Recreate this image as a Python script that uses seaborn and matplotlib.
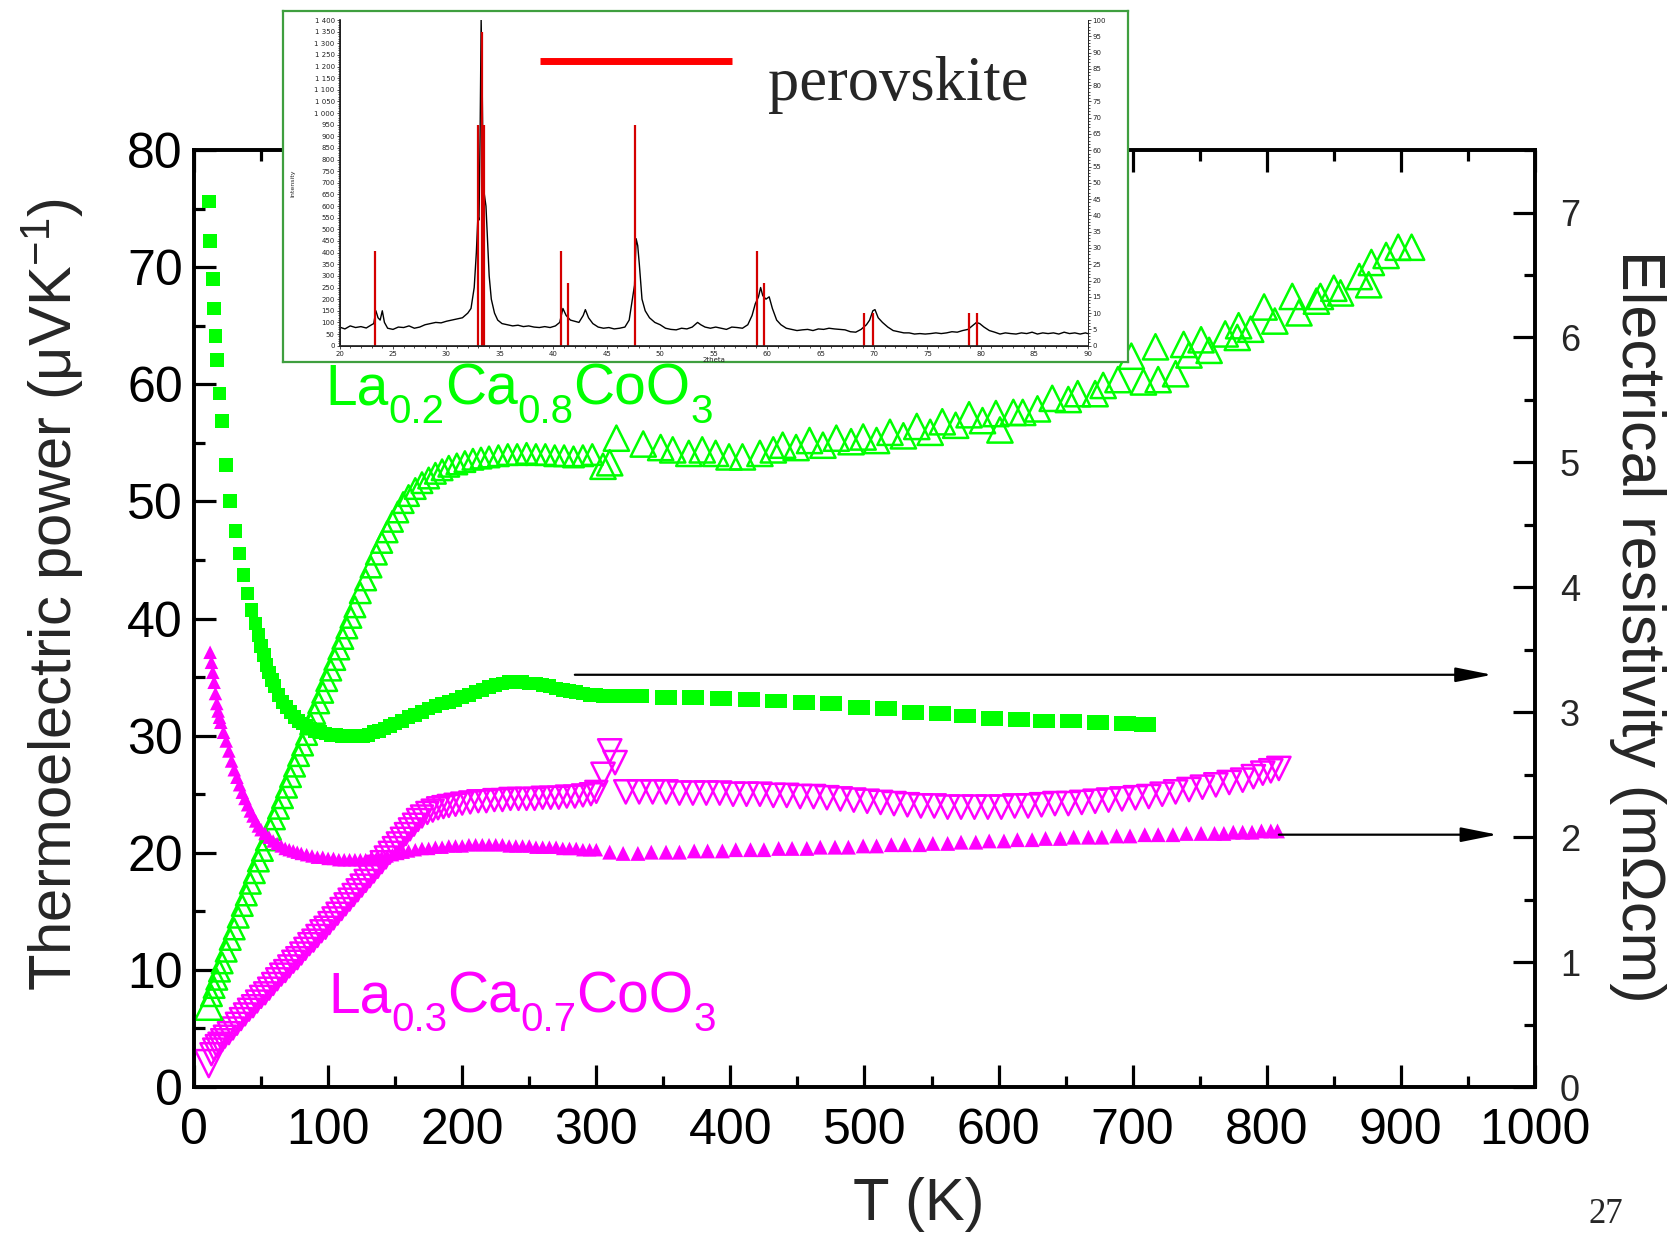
import matplotlib
matplotlib.use("Agg")
import matplotlib.pyplot as plt
import matplotlib.transforms as mtransforms
import seaborn as sns
from matplotlib.ticker import MultipleLocator, FuncFormatter

GREEN = "#00ff00"
MAGENTA = "#ff00ff"
STICK_RED = "#d40000"

# ---- La0.2Ca0.8CoO3 : thermoelectric power (uV/K), open up-triangles ----
t_s82_low = [11, 13, 15, 17, 19, 21, 24, 27, 30, 33, 36, 39, 42, 45, 48, 51, 54, 57, 60, 63,
             66, 69, 72, 75, 78, 81, 84, 87, 90, 93, 96, 99, 102, 105, 108, 111, 114, 117, 120,
             124, 128, 132, 136, 140, 144, 148, 152, 156, 160, 165, 170, 175, 180, 185, 190,
             196, 202, 208, 214, 220, 227, 234, 241, 248, 255, 262, 269, 276, 283, 290, 297]
s_s82_low = [6.9, 7.8, 8.5, 9.2, 9.9, 10.6, 11.6, 12.6, 13.5, 14.5, 15.5, 16.4, 17.4, 18.3, 19.3,
             20.2, 21.1, 22.0, 22.9, 23.8, 24.7, 25.6, 26.5, 27.4, 28.3, 29.2, 30.1, 31.0, 31.9,
             32.8, 33.7, 34.7, 35.6, 36.5, 37.4, 38.3, 39.2, 40.1, 41.0, 42.2, 43.3, 44.4, 45.5,
             46.5, 47.4, 48.3, 49.1, 49.9, 50.5, 51.1, 51.6, 52.0, 52.4, 52.7, 53.0, 53.2, 53.4,
             53.6, 53.7, 53.8, 53.9, 54.0, 54.0, 54.1, 54.0, 54.0, 53.9, 53.9, 53.8, 53.9, 54.0]
t_s82_high = [305, 310, 315, 335, 348, 357, 369, 379, 389, 399, 409, 422, 432, 439, 449, 459,
              469, 479, 490, 499, 509, 519, 529, 539, 549, 558, 568, 578, 588, 598, 601, 611,
              618, 629, 640, 652, 659, 672, 678, 689, 699, 708, 717, 719, 732, 738, 742, 751,
              757, 769, 778, 779, 788, 798, 806, 819, 824, 837, 840, 850, 855, 869, 876, 878,
              889, 898, 908]
s_s82_high = [53.0, 53.3, 55.4, 54.9, 54.6, 54.4, 54.1, 54.4, 54.1, 53.8, 53.8, 54.1, 54.4, 54.8,
              54.6, 55.2, 54.8, 55.4, 55.1, 55.5, 55.2, 55.9, 55.6, 56.4, 55.9, 56.8, 56.5, 57.4,
              56.9, 57.5, 56.1, 57.6, 57.6, 57.9, 58.8, 58.7, 59.2, 59.2, 59.9, 60.4, 62.4, 60.2,
              63.2, 60.4, 60.9, 63.4, 62.5, 63.8, 62.9, 64.3, 64.0, 65.0, 64.7, 66.6, 65.4, 67.5,
              66.1, 67.1, 67.5, 68.2, 67.8, 69.2, 68.5, 70.4, 71.0, 71.7, 71.7]

# ---- La0.3Ca0.7CoO3 : thermoelectric power (uV/K), open down-triangles ----
t_s73_low = [11, 13, 15, 17, 19, 21, 23, 26, 29, 32, 35, 38, 41, 44, 47, 50, 53, 56, 59, 62,
             65, 68, 71, 74, 77, 80, 83, 86, 89, 92, 95, 98, 101, 104, 107, 110, 113, 116, 119,
             122, 125, 128, 131, 134, 137, 140, 143, 146, 149, 152, 155, 158, 161, 164, 167, 170,
             174, 178, 182, 186, 190, 195, 200, 206, 212, 218, 224, 230, 236, 242, 248, 254, 260,
             266, 272, 278, 284, 290, 296, 300]
s_s73_low = [2.0, 2.8, 3.2, 3.5, 3.7, 4.0, 4.3, 4.6, 5.0, 5.4, 5.8, 6.2, 6.6, 6.9, 7.3, 7.7, 8.0,
             8.4, 8.8, 9.2, 9.6, 9.9, 10.3, 10.7, 11.0, 11.4, 11.8, 12.2, 12.5, 12.9, 13.3, 13.6,
             14.0, 14.4, 14.8, 15.2, 15.6, 16.0, 16.4, 16.8, 17.2, 17.6, 18.0, 18.4, 18.8, 19.2,
             19.6, 20.0, 20.4, 20.8, 21.2, 21.6, 22.0, 22.4, 22.8, 23.1, 23.4, 23.6, 23.8, 23.9,
             24.0, 24.1, 24.2, 24.3, 24.4, 24.4, 24.5, 24.5, 24.6, 24.6, 24.6, 24.6, 24.7, 24.7,
             24.7, 24.8, 24.8, 24.9, 25.0, 25.2]
t_s73_high = [305, 310, 314, 322, 332, 342, 352, 362, 372, 382, 392, 402, 412, 422, 432, 442,
              452, 462, 472, 482, 492, 502, 512, 522, 532, 542, 552, 562, 572, 582, 592, 602,
              612, 622, 632, 642, 652, 662, 672, 682, 692, 702, 712, 722, 732, 742, 752, 762,
              772, 782, 790, 797, 803, 809]
s_s73_high = [26.7, 28.7, 27.7, 25.2, 25.2, 25.2, 25.2, 25.1, 25.1, 25.1, 25.1, 25.0, 25.0, 25.0,
              24.9, 24.9, 24.8, 24.8, 24.7, 24.6, 24.5, 24.4, 24.3, 24.2, 24.1, 24.0, 24.0, 23.9,
              23.9, 23.9, 23.9, 23.9, 24.0, 24.0, 24.1, 24.2, 24.2, 24.3, 24.4, 24.5, 24.6, 24.7,
              24.8, 25.0, 25.2, 25.4, 25.6, 25.8, 26.0, 26.2, 26.5, 26.8, 27.0, 27.2]

# ---- La0.2Ca0.8CoO3 : electrical resistivity (mOhm cm), filled squares ----
t_r82_low = [11, 12, 14, 15, 16, 17, 19, 21, 24, 27, 31, 34, 37, 40, 43, 46, 48, 50, 52, 54,
             56, 58, 60, 63, 66, 69, 72, 75, 78, 81, 84, 87, 90, 94, 98, 102, 106, 110, 114, 118,
             122, 126, 130, 134, 138, 142, 146, 150, 155, 160, 165, 170, 175, 180, 185, 190, 195,
             200, 205, 210, 215, 220, 225, 230, 235, 240, 245, 250, 255, 260, 265, 270, 275, 280,
             285, 290, 295, 300, 305]
r_r82_low = [7.09, 6.77, 6.47, 6.23, 6.01, 5.82, 5.55, 5.33, 4.98, 4.69, 4.45, 4.27, 4.10, 3.95,
             3.82, 3.71, 3.62, 3.53, 3.46, 3.38, 3.32, 3.26, 3.21, 3.14, 3.08, 3.04, 3.00, 2.96,
             2.93, 2.91, 2.89, 2.87, 2.85, 2.84, 2.83, 2.82, 2.82, 2.81, 2.81, 2.81, 2.81, 2.81,
             2.82, 2.84, 2.85, 2.87, 2.89, 2.91, 2.93, 2.96, 2.98, 3.00, 3.03, 3.05, 3.07, 3.08,
             3.10, 3.12, 3.14, 3.16, 3.18, 3.20, 3.22, 3.23, 3.24, 3.24, 3.24, 3.23, 3.23, 3.22,
             3.21, 3.19, 3.18, 3.17, 3.16, 3.15, 3.14, 3.14, 3.13]
t_r82_high = [315, 331, 352, 372, 393, 414, 434, 455, 475, 496, 516, 536, 556, 575, 595, 615,
              634, 654, 674, 694, 709]
r_r82_high = [3.13, 3.13, 3.12, 3.12, 3.11, 3.10, 3.09, 3.08, 3.07, 3.04, 3.03, 3.00, 2.99, 2.97,
              2.95, 2.94, 2.93, 2.93, 2.92, 2.91, 2.90]

# ---- La0.3Ca0.7CoO3 : electrical resistivity (mOhm cm), filled up-triangles ----
t_r73_low = [12, 13, 14, 15, 16, 17, 18, 19, 20, 22, 24, 26, 28, 30, 32, 34, 36, 38, 40, 42,
             44, 46, 48, 50, 53, 56, 59, 62, 65, 68, 71, 74, 77, 80, 84, 88, 92, 96, 100, 104,
             108, 112, 116, 120, 124, 128, 132, 136, 140, 144, 148, 152, 156, 160, 165, 170, 175,
             180, 185, 190, 195, 200, 205, 210, 215, 220, 225, 230, 235, 240, 245, 250, 255, 260,
             265, 270, 275, 280, 285, 290, 295, 300]
r_r73_low = [3.48, 3.40, 3.32, 3.24, 3.15, 3.07, 3.01, 2.96, 2.92, 2.84, 2.77, 2.69, 2.61, 2.54,
             2.48, 2.42, 2.36, 2.31, 2.26, 2.21, 2.17, 2.13, 2.09, 2.06, 2.03, 2.00, 1.97, 1.95,
             1.93, 1.91, 1.90, 1.89, 1.88, 1.87, 1.86, 1.85, 1.84, 1.84, 1.83, 1.83, 1.82, 1.82,
             1.82, 1.82, 1.82, 1.82, 1.83, 1.83, 1.84, 1.85, 1.86, 1.87, 1.88, 1.89, 1.90, 1.91,
             1.91, 1.92, 1.92, 1.93, 1.93, 1.93, 1.94, 1.94, 1.94, 1.94, 1.94, 1.94, 1.93, 1.93,
             1.93, 1.93, 1.92, 1.92, 1.92, 1.92, 1.91, 1.91, 1.91, 1.90, 1.90, 1.90]
t_r73_high = [310, 320, 331, 341, 352, 362, 373, 383, 394, 404, 415, 425, 436, 446, 457, 467,
              478, 488, 499, 509, 520, 530, 541, 551, 562, 572, 583, 593, 604, 614, 625, 635,
              646, 656, 667, 677, 688, 698, 709, 719, 730, 740, 751, 761, 768, 775, 782, 789,
              796, 803, 808]
r_r73_high = [1.88, 1.87, 1.87, 1.88, 1.88, 1.88, 1.89, 1.89, 1.89, 1.90, 1.90, 1.90, 1.91, 1.91,
              1.91, 1.92, 1.92, 1.92, 1.93, 1.93, 1.94, 1.94, 1.94, 1.95, 1.95, 1.96, 1.96, 1.97,
              1.97, 1.98, 1.98, 1.99, 1.99, 2.00, 2.00, 2.00, 2.01, 2.01, 2.02, 2.02, 2.02, 2.03,
              2.03, 2.03, 2.03, 2.04, 2.04, 2.04, 2.05, 2.05, 2.05]

# arrows pointing each resistivity curve to the right-hand axis: (T start, T end, rho)
arrow_r82 = (284, 968, 3.30)
arrow_r73 = (809, 972, 2.02)

# ---- X-ray diffraction pattern (inset) ----
two_theta = [20.0, 20.5, 21.0, 21.5, 22.0, 22.5, 23.0, 23.2, 23.4, 23.6,
             23.8, 24.0, 24.2, 24.5, 25.0, 25.5, 26.0, 26.5, 27.0, 27.5,
             28.0, 28.5, 29.0, 29.5, 30.0, 30.5, 31.0, 31.5, 32.0, 32.3,
             32.6, 32.8, 32.95, 33.05, 33.15, 33.25, 33.35, 33.45, 33.55, 33.7,
             33.85, 34.0, 34.2, 34.5, 34.8, 35.2, 35.7, 36.2, 36.7, 37.2,
             37.7, 38.2, 38.7, 39.2, 39.7, 40.2, 40.6, 40.9, 41.2, 41.6,
             42.0, 42.4, 42.8, 43.0, 43.3, 43.7, 44.2, 44.7, 45.2, 45.7,
             46.2, 46.7, 47.1, 47.4, 47.6, 47.75, 47.9, 48.05, 48.3, 48.6,
             49.0, 49.5, 50.0, 50.5, 51.0, 51.5, 52.0, 52.5, 53.0, 53.5,
             53.8, 54.2, 54.7, 55.2, 55.7, 56.2, 56.7, 57.2, 57.7, 58.2,
             58.6, 58.9, 59.2, 59.4, 59.6, 59.9, 60.2, 60.5, 60.9, 61.3,
             61.8, 62.3, 62.8, 63.3, 63.8, 64.3, 64.8, 65.3, 65.8, 66.3,
             66.8, 67.3, 67.8, 68.3, 68.8, 69.3, 69.6, 69.9, 70.1, 70.4,
             70.8, 71.3, 71.8, 72.3, 72.8, 73.3, 73.8, 74.3, 74.8, 75.3,
             75.8, 76.3, 76.8, 77.3, 77.8, 78.3, 78.8, 79.2, 79.6, 79.9,
             80.3, 80.8, 81.3, 81.8, 82.3, 82.8, 83.3, 83.8, 84.3, 84.8,
             85.3, 85.8, 86.3, 86.8, 87.3, 87.8, 88.3, 88.8, 89.3, 89.8,
             90.0]
counts = [80, 72, 85, 78, 82, 76, 90, 95, 150, 120,
          110, 150, 100, 75, 70, 80, 78, 85, 75, 80,
          90, 95, 100, 98, 105, 110, 115, 120, 140, 160,
          250, 400, 560, 540, 900, 1400, 1100, 700, 650, 600,
          450, 300, 200, 140, 110, 95, 90, 85, 88, 82,
          85, 80, 78, 82, 78, 85, 100, 160, 130, 110,
          105, 100, 130, 155, 120, 95, 80, 75, 78, 72,
          75, 80, 110, 200, 260, 460, 430, 350, 200, 150,
          120, 100, 90, 75, 70, 68, 75, 72, 80, 100,
          90, 80, 75, 80, 75, 70, 80, 78, 75, 90,
          130, 180, 210, 250, 215, 200, 210, 160, 110, 90,
          75, 70, 65, 68, 70, 65, 72, 70, 75, 72,
          70, 68, 60, 58, 70, 90, 110, 150, 155, 120,
          100, 80, 65, 60, 55, 55, 50, 52, 50, 52,
          55, 52, 55, 60, 58, 65, 70, 85, 100, 95,
          80, 65, 58, 50, 55, 52, 50, 55, 52, 58,
          50, 55, 52, 55, 50, 58, 52, 55, 50, 55,
          52]
# reference perovskite reflections
stick_pos = [23.30, 32.94, 33.29, 33.49, 40.75, 41.40, 47.60, 59.06, 59.72, 69.10, 69.96, 78.94, 79.60]
stick_height = [408, 948, 1350, 948, 408, 271, 948, 408, 271, 139, 139, 139, 139]

# chemical formulas as (text, is_subscript) pieces
formula_82 = [("La", False), ("0.2", True), ("Ca", False), ("0.8", True), ("CoO", False), ("3", True)]
formula_73 = [("La", False), ("0.3", True), ("Ca", False), ("0.7", True), ("CoO", False), ("3", True)]

sns.set_theme(style="ticks")
plt.rcParams["font.family"] = ["Liberation Sans", "DejaVu Sans"]
plt.rcParams["mathtext.fontset"] = "custom"
plt.rcParams["mathtext.rm"] = "Liberation Sans"
plt.rcParams["mathtext.it"] = "Liberation Sans:italic"
plt.rcParams["mathtext.bf"] = "Liberation Sans:bold"

fig = plt.figure(figsize=(16.71, 12.35), dpi=100)
renderer = fig.canvas.get_renderer()
ax = fig.add_axes([0.1161, 0.1198, 0.8025, 0.7587])
ax2 = ax.twinx()

EDGE_LW = 1.8


def sizes(n, first, rest):
    return [first] + [rest] * (n - 1)


def write_formula(axis, x, y, pieces, color, size, sub_size, drop_px):
    """Write a chemical formula piece by piece with dropped subscripts."""
    dx = 0.0
    for text, is_sub in pieces:
        tr = mtransforms.offset_copy(axis.transData, x=dx, y=-drop_px if is_sub else 0,
                                     units="dots")
        t = axis.text(x, y, text, transform=tr, color=color,
                      fontsize=sub_size if is_sub else size,
                      ha="left", va="baseline", zorder=4)
        dx += t.get_window_extent(renderer).width


# thermopower, left axis
sns.scatterplot(x=t_s73_low, y=s_s73_low, ax=ax, marker="v", color=MAGENTA,
                facecolor="none", edgecolor=MAGENTA, linewidth=EDGE_LW,
                s=sizes(len(t_s73_low), 380, 250), zorder=3)
sns.scatterplot(x=t_s73_high, y=s_s73_high, ax=ax, marker="v", color=MAGENTA,
                facecolor="none", edgecolor=MAGENTA, linewidth=EDGE_LW, s=280, zorder=3)
sns.scatterplot(x=t_s82_low, y=s_s82_low, ax=ax, marker="^", color=GREEN,
                facecolor="none", edgecolor=GREEN, linewidth=EDGE_LW,
                s=sizes(len(t_s82_low), 380, 220), zorder=3)
sns.scatterplot(x=t_s82_high, y=s_s82_high, ax=ax, marker="^", color=GREEN,
                facecolor="none", edgecolor=GREEN, linewidth=EDGE_LW, s=330, zorder=3)

# resistivity, right axis
wide_box = [(-1, -0.68), (1, -0.68), (1, 0.68), (-1, 0.68), (-1, -0.68)]
sns.scatterplot(x=t_r82_low, y=r_r82_low, ax=ax2, marker="s", color=GREEN,
                edgecolor="none", s=95, zorder=3)
sns.scatterplot(x=t_r82_high, y=r_r82_high, ax=ax2, marker=wide_box, color=GREEN,
                edgecolor="none", s=250, zorder=3)
sns.scatterplot(x=t_r73_low, y=r_r73_low, ax=ax2, marker="^", color=MAGENTA,
                edgecolor="none", s=95, zorder=3)
sns.scatterplot(x=t_r73_high, y=r_r73_high, ax=ax2, marker="^", color=MAGENTA,
                edgecolor="none", s=115, zorder=3)

for t0, t1, rho in (arrow_r82, arrow_r73):
    ax2.annotate("", xy=(t1, rho), xytext=(t0, rho),
                 arrowprops=dict(arrowstyle="-|>,head_length=0.7,head_width=0.14",
                                 mutation_scale=32, lw=1.6, color="black",
                                 shrinkA=0, shrinkB=0))

ax.set_xlim(0, 1000)
ax.set_ylim(0, 80)
ax2.set_ylim(0, 7.5)
ax.xaxis.set_major_locator(MultipleLocator(100))
ax.xaxis.set_minor_locator(MultipleLocator(50))
ax.yaxis.set_major_locator(MultipleLocator(10))
ax.yaxis.set_minor_locator(MultipleLocator(5))
ax2.yaxis.set_major_locator(MultipleLocator(1))
ax2.yaxis.set_minor_locator(MultipleLocator(0.5))
ax.set_xlabel("")
ax.set_ylabel("")
ax2.set_ylabel("")

for a in (ax, ax2):
    for sp in a.spines.values():
        sp.set_linewidth(2.6)
        sp.set_color("black")

ax.tick_params(axis="both", which="both", direction="in", top=True, right=False,
               color="black", width=2.3)
ax.tick_params(which="major", length=16)
ax.tick_params(which="minor", length=8)
ax.tick_params(axis="both", labelsize=36, labelcolor="black")
ax.tick_params(axis="x", pad=15)
ax.tick_params(axis="y", pad=8)
ax2.tick_params(axis="y", which="both", direction="in", right=True, left=False,
                color="black", width=2.3, labelsize=26, pad=18)
ax2.tick_params(axis="y", which="major", length=16)
ax2.tick_params(axis="y", which="minor", length=8)

write_formula(ax, 98, 58.3, formula_82, GREEN, 41, 29, 19)
write_formula(ax, 100, 6.4, formula_73, MAGENTA, 41, 29, 19)

fig.text(0.0317, 0.519, "Thermoelectric power (\u03bcVK$^{-1}$)", rotation=90,
         fontsize=43, ha="center", va="center")
fig.text(0.980, 0.493, "Electrical resistivity (m\u03a9cm)", rotation=270,
         fontsize=44, ha="center", va="center")
fig.text(0.550, 0.025, "T (K)", fontsize=43, ha="center", va="center")
fig.text(0.961, 0.0165, "27", fontsize=25, family="Liberation Serif",
         ha="center", va="center")

# ---- inset: XRD pattern ----
frame = fig.add_axes([0.1692, 0.7071, 0.5059, 0.2840], zorder=5)
frame.set_xticks([])
frame.set_yticks([])
frame.set_facecolor("white")
for sp in frame.spines.values():
    sp.set_color("#3f9f3f")
    sp.set_linewidth(1.6)

ax_in = fig.add_axes([0.2032, 0.7201, 0.4477, 0.2637], zorder=6)
ax_in.patch.set_alpha(0)
ax_in.vlines(stick_pos, 0, stick_height, colors=STICK_RED, linewidth=1.6, zorder=3)
sns.lineplot(x=two_theta, y=counts, ax=ax_in, color="black", linewidth=1.0,
             sort=False, zorder=2)
ax_in.set_xlim(20, 90)
ax_in.set_ylim(0, 1400)
ax_in.xaxis.set_major_locator(MultipleLocator(5))
ax_in.xaxis.set_minor_locator(MultipleLocator(1))
ax_in.yaxis.set_major_locator(MultipleLocator(50))
ax_in.yaxis.set_minor_locator(MultipleLocator(10))
ax_in.yaxis.set_major_formatter(FuncFormatter(lambda v, p: f"{int(v):,}".replace(",", " ")))
ax_in.set_xlabel("2theta", fontsize=5, labelpad=0, family="DejaVu Sans")
ax_in.set_ylabel("Intensity", fontsize=4.5, labelpad=14, family="DejaVu Sans")
ax_in.spines["top"].set_visible(False)
for side in ("left", "bottom", "right"):
    ax_in.spines[side].set_linewidth(0.7)
    ax_in.spines[side].set_color("black")
ax_in.tick_params(which="both", direction="out", width=0.5, color="black",
                  labelsize=5, pad=1, labelcolor="#222222")
ax_in.tick_params(which="major", length=2.5)
ax_in.tick_params(which="minor", length=1.2)
for lab in ax_in.get_xticklabels() + ax_in.get_yticklabels():
    lab.set_family("DejaVu Sans")

ax_in_r = ax_in.twinx()
ax_in_r.set_zorder(7)
ax_in_r.patch.set_alpha(0)
ax_in_r.set_ylim(0, 100)
ax_in_r.yaxis.set_major_locator(MultipleLocator(5))
ax_in_r.yaxis.set_minor_locator(MultipleLocator(1))
ax_in_r.spines["top"].set_visible(False)
ax_in_r.spines["right"].set_linewidth(0.7)
ax_in_r.tick_params(which="both", direction="out", width=0.5, color="black",
                    labelsize=5, pad=1, labelcolor="#222222")
ax_in_r.tick_params(which="major", length=2.5)
ax_in_r.tick_params(which="minor", length=1.2)
for lab in ax_in_r.get_yticklabels():
    lab.set_family("DejaVu Sans")

# phase key drawn across the inset
ax_in.plot([0.3232, 0.4378], [0.951, 0.951], transform=fig.transFigure,
           color="#ff0000", linewidth=5, solid_capstyle="butt", clip_on=False, zorder=8)
ax_in.text(0.4596, 0.919, "perovskite", transform=fig.transFigure, fontsize=45,
           family="Liberation Serif", ha="left", va="baseline", zorder=8)

fig.savefig("out.png", dpi=100)
